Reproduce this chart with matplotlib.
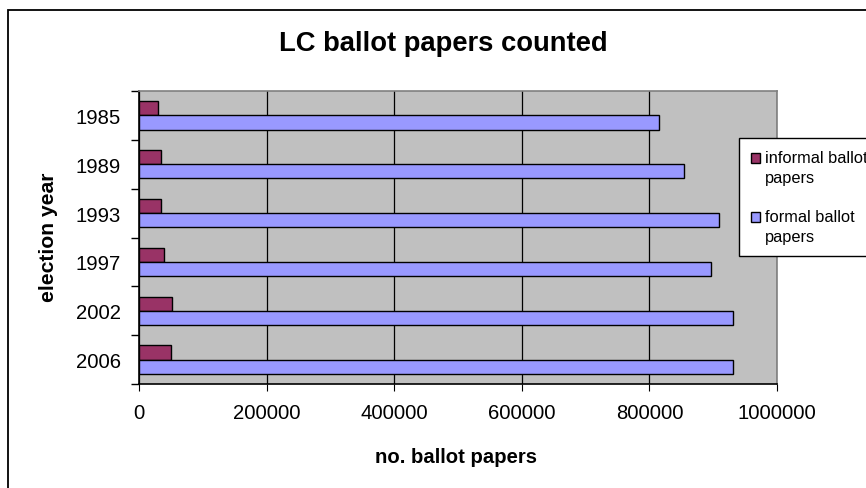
import matplotlib
matplotlib.use("Agg")
import matplotlib.pyplot as plt
from matplotlib.patches import Rectangle
from matplotlib.container import BarContainer
from matplotlib.legend_handler import HandlerPatch
import numpy as np

plt.rcParams['font.family'] = ['Liberation Sans', 'DejaVu Sans']

years = ["1985", "1989", "1993", "1997", "2002", "2006"]
informal = [30300, 34000, 34000, 39700, 52200, 50200]
formal = [814600, 854700, 909600, 897000, 931500, 931500]
xticks = [0, 200000, 400000, 600000, 800000, 1000000]

W, H = 866, 489
fig = plt.figure(figsize=(W/100, H/100), dpi=100)
fig.patch.set_facecolor('white')

# outer chart border
fig.patches.append(Rectangle((8/W, -0.05), 1.0, 1 - 11/H + 0.05, transform=fig.transFigure,
                             fill=False, edgecolor='black', linewidth=1.3, zorder=0))

L, R, T, B = 139, 777, 92, 385
ax = fig.add_axes([L/W, 1 - B/H, (R-L)/W, (B-T)/H])
ax.set_facecolor('#C0C0C0')

y = np.arange(len(years))
h = 0.287
ax.barh(y - 0.145, informal, height=h, color='#993366', edgecolor='black', linewidth=1,
        label='informal ballot\npapers', zorder=3)
ax.barh(y + 0.145, formal, height=h, color='#9999FF', edgecolor='black', linewidth=1,
        label='formal ballot\npapers', zorder=3)

ax.set_xlim(0, 1000000)
ax.set_ylim(len(years) - 0.5, -0.5)
ax.set_xticks(xticks)
ax.set_xticklabels([str(v) for v in xticks], fontsize=14.6)
ax.xaxis.grid(True, color='black', linewidth=0.9, zorder=1)
ax.set_axisbelow(True)

ax.set_yticks(y)
ax.set_yticklabels(years, fontsize=14.6)
ax.set_yticks(np.arange(len(years) + 1) - 0.5, minor=True)
ax.tick_params(axis='y', which='major', length=0, pad=13)
ax.tick_params(axis='y', which='minor', length=6, width=1, direction='out')
ax.tick_params(axis='x', which='major', length=5, width=0.8, direction='out', pad=9)

for s in ['top', 'right']:
    ax.spines[s].set_color('#808080')
    ax.spines[s].set_linewidth(1.2)
for s in ['left', 'bottom']:
    ax.spines[s].set_color('black')
    ax.spines[s].set_linewidth(1.2)

ax.set_xlabel('no. ballot papers', fontsize=14.6, fontweight='bold')
ax.xaxis.set_label_coords(0.497, (B - 458) / (B - T))
ax.xaxis.label.set_va('center')
ax.set_ylabel('election year', fontsize=15.2, fontweight='bold')
ax.yaxis.set_label_coords((48 - L) / (R - L), (B - 237.5) / (B - T))
ax.yaxis.label.set_va('center')
ax.yaxis.label.set_ha('center')

fig.text(443.5/W, 1 - 44/H, 'LC ballot papers counted', fontsize=19.7, fontweight='bold',
         ha='center', va='center')


def top_aligned_patch(legend, orig_handle, xdescent, ydescent, width, height, fontsize):
    # align the marker square with the first text line (as Excel does)
    return Rectangle((-xdescent, -ydescent + 7.2), width, height)


def from_first_child(tgt, src):
    tgt.update_from(src.patches[0])


leg = fig.legend(loc='upper left', bbox_to_anchor=(739/W, 1 - 139/H), fontsize=11.8,
                 frameon=True, fancybox=False, edgecolor='black', framealpha=1,
                 handlelength=0.55, handleheight=0.55, handletextpad=0.3,
                 labelspacing=1.45, borderpad=0.75, borderaxespad=0,
                 handler_map={BarContainer: HandlerPatch(patch_func=top_aligned_patch,
                                                         update_func=from_first_child)})
leg.get_frame().set_linewidth(1)
for t in leg.get_texts():
    t.set_linespacing(1.41)

fig.savefig('out.png', dpi=100)
